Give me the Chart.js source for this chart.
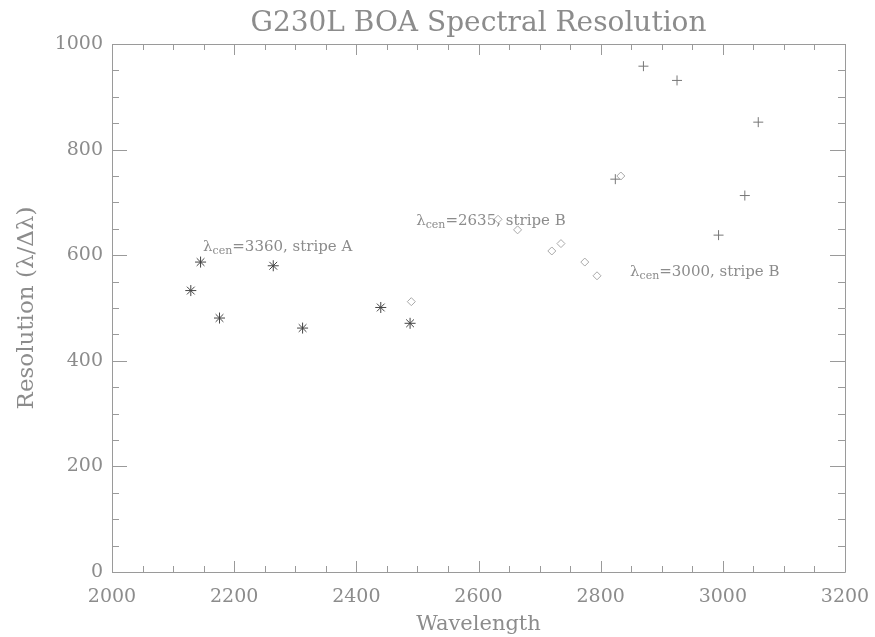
<!DOCTYPE html>
<html>
<head>
<meta charset="utf-8">
<script src="https://cdn.jsdelivr.net/npm/chart.js@4/dist/chart.umd.min.js"></script>
<style>
  html, body { margin: 0; padding: 0; background: #ffffff; }
  #wrap { width: 875px; height: 637px; }
</style>
</head>
<body>
<div id="wrap"><canvas id="c" width="875" height="637"></canvas></div>
<script>
// Measured spectral resolution for three grating settings
const stripeA_wave = [2129, 2145, 2176, 2264, 2312, 2440, 2488];
const stripeA_res  = [533, 587, 481, 580, 462, 501, 471];

const stripeB2635_wave = [2490, 2632, 2664, 2720, 2735, 2774, 2794, 2833];
const stripeB2635_res  = [512, 668, 648, 608, 622, 587, 561, 750];

const stripeB3000_wave = [2824, 2870, 2925, 2993, 3036, 3058];
const stripeB3000_res  = [744, 958, 931, 638, 713, 852];

const xTickValues = [2000, 2200, 2400, 2600, 2800, 3000, 3200];
const yTickValues = [0, 200, 400, 600, 800, 1000];

// Text labels placed in data coordinates: [wavelength, resolution, central wavelength, stripe]
const notes = [
  [2149, 608, '3360', 'A'],
  [2498, 657, '2635', 'B'],
  [2848, 560, '3000', 'B']
];

const FONT = '"DejaVu Serif", "Liberation Serif", serif';
const TEXT = '#8c8c8c';
const AXIS = '#9a9a9a';

function pts(xs, ys) { return xs.map((x, i) => ({ x: x, y: ys[i] })); }

// Box around the plot with inward ticks on all four sides
const framePlugin = {
  id: 'frame',
  afterDraw(chart) {
    const { ctx, chartArea: a, scales } = chart;
    const xs = scales.x, ys = scales.y;
    ctx.save();
    ctx.strokeStyle = AXIS;
    ctx.lineWidth = 1;
    ctx.beginPath();
    ctx.rect(Math.round(a.left) + 0.5, Math.round(a.top) + 0.5,
             Math.round(a.right - a.left), Math.round(a.bottom - a.top));
    ctx.stroke();
    ctx.beginPath();
    for (let v = xs.min; v <= xs.max; v += 50) {
      const px = Math.round(xs.getPixelForValue(v)) + 0.5;
      const len = (v % 200 === 0) ? 11 : 6;
      ctx.moveTo(px, a.bottom); ctx.lineTo(px, a.bottom - len);
      ctx.moveTo(px, a.top); ctx.lineTo(px, a.top + len);
    }
    for (let v = ys.min; v <= ys.max; v += 50) {
      const py = Math.round(ys.getPixelForValue(v)) + 0.5;
      const len = (v % 200 === 0) ? 15 : 7;
      ctx.moveTo(a.left, py); ctx.lineTo(a.left + len, py);
      ctx.moveTo(a.right, py); ctx.lineTo(a.right - len, py);
    }
    ctx.stroke();

    // Title centred over the plot area
    ctx.fillStyle = TEXT;
    ctx.font = '28px ' + FONT;
    ctx.textAlign = 'center';
    ctx.textBaseline = 'alphabetic';
    ctx.fillText('G230L BOA Spectral Resolution', (a.left + a.right) / 2, 31);

    // Setting labels with subscripted "cen"
    ctx.textAlign = 'left';
    notes.forEach(n => {
      let x = xs.getPixelForValue(n[0]);
      const y = ys.getPixelForValue(n[1]);
      ctx.font = '15px ' + FONT;
      ctx.fillText('λ', x, y);
      x += ctx.measureText('λ').width;
      ctx.font = '11px ' + FONT;
      ctx.fillText('cen', x, y + 3);
      x += ctx.measureText('cen').width;
      ctx.font = '15px ' + FONT;
      ctx.fillText('=' + n[2] + ', stripe ' + n[3], x, y);
    });
    ctx.restore();
  }
};

new Chart(document.getElementById('c'), {
  type: 'scatter',
  data: {
    datasets: [
      {
        label: 'λcen=3360, stripe A',
        data: pts(stripeA_wave, stripeA_res),
        pointStyle: 'star', pointRadius: 5.5, borderWidth: 1,
        borderColor: '#444444', backgroundColor: '#444444'
      },
      {
        label: 'λcen=2635, stripe B',
        data: pts(stripeB2635_wave, stripeB2635_res),
        pointStyle: 'rectRot', pointRadius: 4, borderWidth: 1,
        borderColor: '#a8a8a8', backgroundColor: 'rgba(0,0,0,0)'
      },
      {
        label: 'λcen=3000, stripe B',
        data: pts(stripeB3000_wave, stripeB3000_res),
        pointStyle: 'cross', pointRadius: 5, borderWidth: 1,
        borderColor: '#777777', backgroundColor: '#777777'
      }
    ]
  },
  options: {
    responsive: false,
    animation: false,
    events: [],
    layout: { padding: { top: 44, right: 30, left: 0, bottom: 0 } },
    plugins: {
      legend: { display: false },
      title: { display: false },
      tooltip: { enabled: false }
    },
    scales: {
      x: {
        type: 'linear', min: 2000, max: 3200,
        afterFit(s) { s.height = 65; s.paddingRight = 0; s.paddingLeft = 0; },
        afterBuildTicks(s) { s.ticks = xTickValues.map(v => ({ value: v })); },
        grid: { display: false, drawTicks: false },
        border: { display: false },
        ticks: { color: TEXT, font: { family: FONT, size: 19 }, padding: 14, maxRotation: 0,
                 callback: v => String(v) },
        title: { display: true, text: 'Wavelength', color: TEXT,
                 font: { family: FONT, size: 21 }, padding: { top: 0, bottom: 0 } }
      },
      y: {
        type: 'linear', min: 0, max: 1000,
        afterFit(s) { s.width = 112; s.paddingTop = 0; s.paddingBottom = 0; },
        afterBuildTicks(s) { s.ticks = yTickValues.map(v => ({ value: v })); },
        grid: { display: false, drawTicks: false },
        border: { display: false },
        ticks: { color: TEXT, font: { family: FONT, size: 19 }, padding: 9,
                 callback: v => String(v) },
        title: { display: true, text: 'Resolution (λ/Δλ)', color: TEXT,
                 font: { family: FONT, size: 23 }, padding: { top: 13, bottom: 0 } }
      }
    }
  },
  plugins: [framePlugin]
});
</script>
</body>
</html>
